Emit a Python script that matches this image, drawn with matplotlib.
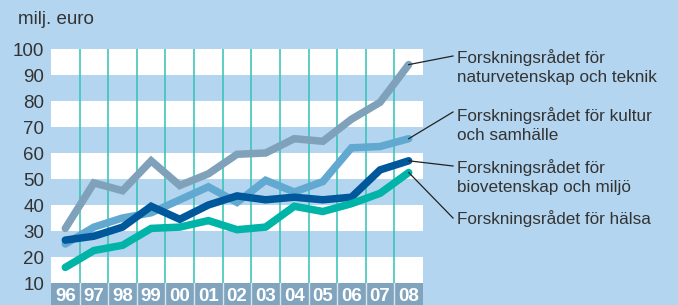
import numpy as np
import matplotlib.pyplot as plt

# =========================
# DADOS
# =========================

YEARS = ["96", "97", "98", "99", "00", "01", "02", "03", "04", "05", "06", "07", "08"]

NATURVETENSKAP = [31, 48.5, 45.5, 57, 47.5, 52, 59.5, 60, 65.5, 64.5, 73, 79.5, 94]
KULTUR = [25, 31.5, 35, 37, 42, 47, 41, 49.5, 45, 49, 62, 62.5, 65.5]
BIOVETENSKAP = [26.5, 28, 31.5, 39.5, 34.5, 40, 43.5, 42, 43, 42, 43, 53.5, 57]
HALSA = [16, 22.5, 24.5, 31, 31.5, 34, 30.5, 31.5, 39.5, 37.5, 40.5, 44.5, 52.5]

LABELS = [
    "Forskningsrådet för\nnaturvetenskap och teknik",
    "Forskningsrådet för kultur\noch samhälle",
    "Forskningsrådet för\nbiovetenskap och miljö",
    "Forskningsrådet för hälsa",
]

Y_TICKS = [10, 20, 30, 40, 50, 60, 70, 80, 90, 100]

# =========================
# ESTILO
# =========================

BG = "#b3d5ef"
STRIP = "#80a4bd"
GRID_V = "#30c2b4"
TEXT = "#333333"
COLORS = ["#7fa2ba", "#62a9d2", "#00589c", "#00b4a8"]

plt.rcParams["font.family"] = ["Liberation Sans", "DejaVu Sans"]

W, H = 678, 305
fig = plt.figure(figsize=(W / 100, H / 100), dpi=100)
fig.patch.set_facecolor(BG)

x0, x1 = 51, 423
y_top, y_bot = 49, 283
ax = fig.add_axes([x0 / W, (H - y_bot) / H, (x1 - x0) / W, (y_bot - y_top) / H])
ax.set_facecolor(BG)
ax.set_xlim(0, len(YEARS))
ax.set_ylim(10, 100)

# faixas horizontais alternadas
for lo in range(10, 100, 10):
    if (lo // 10) % 2 == 1:
        ax.axhspan(lo, lo + 10, color="white", lw=0, zorder=0)

for k in range(1, len(YEARS)):
    ax.axvline(k, color=GRID_V, lw=1.1, zorder=1)

xs = np.arange(len(YEARS)) + 0.5
series = [NATURVETENSKAP, KULTUR, BIOVETENSKAP, HALSA]
for vals, col in zip(series, COLORS):
    ax.plot(xs, vals, color=col, lw=5.4, solid_capstyle="round",
            solid_joinstyle="miter", zorder=3)

for s in ax.spines.values():
    s.set_visible(False)
ax.set_xticks([])
ax.set_yticks(Y_TICKS)
ax.set_yticklabels([str(v) for v in Y_TICKS], fontsize=13.5, color=TEXT)
ax.tick_params(axis="y", length=0, pad=5)

# faixa dos anos
ax2 = fig.add_axes([x0 / W, 0, (x1 - x0) / W, (H - y_bot) / H])
ax2.set_facecolor(STRIP)
ax2.set_xlim(0, len(YEARS))
ax2.set_ylim(0, 1)
ax2.set_xticks([])
ax2.set_yticks([])
for s in ax2.spines.values():
    s.set_visible(False)
for k in range(1, len(YEARS)):
    ax2.axvline(k, color="#d8e6f0", lw=1)
for i, y in enumerate(YEARS):
    ax2.text(i + 0.5, 0.4, y, ha="center", va="center", fontsize=13.5,
             fontweight="bold", color="white")

fig.text(18 / W, 1 - 20 / H, "milj. euro", fontsize=13.5, color=TEXT,
         ha="left", va="center")

# rótulos com linhas guia
label_pos = [(457, 67), (457, 125), (457, 177), (457, 219)]
anchor_text = [(453, 56), (453, 112), (453, 166), (453, 218)]
for vals, lab, (tx, ty), (lx, ly) in zip(series, LABELS, label_pos, anchor_text):
    fig.text(tx / W, 1 - ty / H, lab, fontsize=12.3, color=TEXT,
             ha="left", va="center", linespacing=1.38)
    end_x = xs[-1]
    end_y = vals[-1]
    disp = ax.transData.transform((end_x, end_y))
    fx, fy = fig.transFigure.inverted().transform(disp)
    fig.add_artist(plt.Line2D([fx, lx / W], [fy, 1 - ly / H],
                              color="#222222", lw=0.9,
                              transform=fig.transFigure))

fig.savefig("out.png", dpi=100, facecolor=BG)
